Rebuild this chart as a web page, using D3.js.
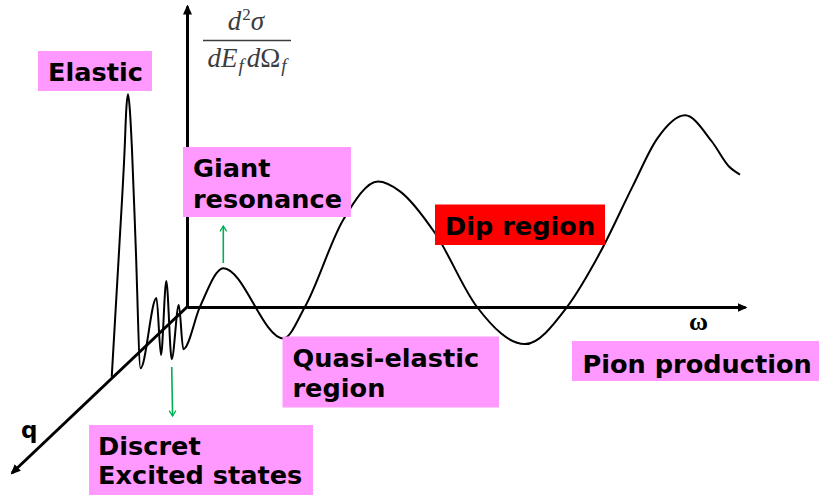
<!DOCTYPE html>
<html>
<head>
<meta charset="utf-8">
<script src="https://cdn.jsdelivr.net/npm/d3@7/dist/d3.min.js"></script>
<style>
  html, body { margin: 0; padding: 0; background: #fff; }
  svg { display: block; }
  .lbl { font-family: "DejaVu Sans", Verdana, sans-serif; font-weight: bold; font-size: 25.6px; fill: #000; }
  .math { font-family: "Liberation Serif", "Times New Roman", serif; font-style: italic; fill: #3c3c3c; }
</style>
</head>
<body>
<svg id="chart" width="819" height="496"></svg>
<script>
// Schematic inclusive cross section versus energy transfer (omega),
// with the discrete low-energy structure drawn along the q direction.

// Energy transfer (axis units, 0 = origin, 100 = end of omega axis)
const omega = [
  -13.49, -12.13, -11.18, -10.88, -10.57, -10.25, -9.86, -9.19, -8.33,
  -5.47, -4.66, -3.71, -2.74, -1.47, -0.66,
  2.33, 6.51, 17.26, 21.15, 28.01, 34.23, 38.17, 44.44, 51.97,
  60.57, 68.10, 74.01, 79.93, 84.18, 89.25, 94.09, 97.13, 99.10
];
// Cross section (axis units, 0 = omega axis, 100 = top of sigma axis)
const sigma = [
  -23.23, 20.10, 52.33, 65.67, 70.67, 65.67, 52.33, 20.10, -20.33,
  3.00, -16.00, 8.67, -17.33, 0.67, -14.00,
  0.10, 12.90, -10.43, 0.10, 29.00, 41.67, 38.43, 24.57, 0.00,
  -12.33, 0.00, 18.00, 40.33, 55.67, 63.67, 54.90, 46.67, 44.00
];

// Region names shown in the boxes (one entry per text line group)
const regionNames = [
  ["Elastic"],
  ["Giant", "resonance"],
  ["Dip region"],
  ["Quasi-elastic", "region"],
  ["Pion production"],
  ["Discret", "Excited states"]
];
const qLabel = "q";
const omegaLabel = "ω";

const svg = d3.select("#chart");

const x = d3.scaleLinear().domain([0, 100]).range([187, 745]);
const y = d3.scaleLinear().domain([0, 100]).range([307, 6]);
// q axis runs from the origin down-left
const qx = d3.scaleLinear().domain([0, 100]).range([187, 12]);
const qy = d3.scaleLinear().domain([0, 100]).range([307, 473]);

// Markers
const defs = svg.append("defs");
defs.append("marker")
  .attr("id", "axisHead")
  .attr("markerUnits", "userSpaceOnUse")
  .attr("viewBox", "0 -5 10 10")
  .attr("refX", 8).attr("refY", 0)
  .attr("markerWidth", 10).attr("markerHeight", 10)
  .attr("orient", "auto")
  .append("path").attr("d", "M0,-4.5L10,0L0,4.5Z").attr("fill", "#000");
defs.append("marker")
  .attr("id", "greenHead")
  .attr("markerUnits", "userSpaceOnUse")
  .attr("viewBox", "-1 -5 12 10")
  .attr("refX", 9.5).attr("refY", 0)
  .attr("markerWidth", 10).attr("markerHeight", 10)
  .attr("orient", "auto")
  .append("path").attr("d", "M3,-4L9.5,0L3,4")
  .attr("fill", "none").attr("stroke", "#00b050").attr("stroke-width", 1.6);

// Axes (no ticks, arrow ends)
const gx = svg.append("g").attr("transform", `translate(0,${y(0)})`)
  .call(d3.axisBottom(x).tickValues([]).tickSizeOuter(0));
const gy = svg.append("g").attr("transform", `translate(${x(0)},0)`)
  .call(d3.axisLeft(y).tickValues([]).tickSizeOuter(0));
[gx, gy].forEach(g => g.select(".domain")
  .style("stroke", "#000").style("stroke-width", "3px")
  .attr("marker-end", "url(#axisHead)"));

svg.append("line")
  .attr("x1", qx(0)).attr("y1", qy(0))
  .attr("x2", qx(100)).attr("y2", qy(100))
  .attr("stroke", "#000").attr("stroke-width", 3)
  .attr("marker-end", "url(#axisHead)");

// Cross-section curve
const pts = omega.map((w, i) => [w, sigma[i]]);
const line = d3.line()
  .x(d => x(d[0])).y(d => y(d[1]))
  .curve(d3.curveMonotoneX);
svg.append("path")
  .attr("d", line(pts))
  .attr("fill", "none")
  .attr("stroke", "#000")
  .attr("stroke-width", 2)
  .attr("stroke-linejoin", "round");

// Green pointer arrows
svg.append("line")
  .attr("x1", 223.3).attr("y1", 263).attr("x2", 223.3).attr("y2", 226)
  .attr("stroke", "#00b050").attr("stroke-width", 1.6)
  .attr("marker-end", "url(#greenHead)");
svg.append("line")
  .attr("x1", 171.7).attr("y1", 367).attr("x2", 172.6).attr("y2", 416)
  .attr("stroke", "#00b050").attr("stroke-width", 1.6)
  .attr("marker-end", "url(#greenHead)");

// Region boxes
const boxLayout = [
  { x: 38,  y: 51,  w: 114, h: 40, tx: 48,  base: [81],       fill: "#ff99ff" },
  { x: 183, y: 147, w: 168, h: 70, tx: 193, base: [177, 208], fill: "#ff99ff" },
  { x: 435, y: 204.5, w: 170, h: 40.5, tx: 445, base: [235],  fill: "#ff0000" },
  { x: 282.5, y: 336.5, w: 216.5, h: 71, tx: 292.5, base: [367, 397], fill: "#ff99ff" },
  { x: 572, y: 341, w: 247, h: 40, tx: 582.5, base: [373],    fill: "#ff99ff" },
  { x: 89,  y: 425, w: 224, h: 70, tx: 98,  base: [455, 484], fill: "#ff99ff" }
];
regionNames.forEach((lines, i) => {
  const b = boxLayout[i];
  const g = svg.append("g");
  g.append("rect").attr("x", b.x).attr("y", b.y)
    .attr("width", b.w).attr("height", b.h).attr("fill", b.fill);
  lines.forEach((t, j) => {
    g.append("text").attr("class", "lbl")
      .attr("x", b.tx).attr("y", b.base[j]).text(t);
  });
});

// Axis names
svg.append("text").attr("class", "lbl")
  .attr("x", 21).attr("y", 438).style("font-size", "23px").text(qLabel);
svg.append("text")
  .attr("x", 689).attr("y", 330)
  .style("font-family", "'Liberation Serif', serif")
  .style("font-weight", "bold").style("font-size", "26px")
  .text(omegaLabel);

// Ordinate label: d²σ / (dE_f dΩ_f)
const num = svg.append("text").attr("class", "math")
  .attr("x", 246).attr("y", 30).attr("text-anchor", "middle")
  .style("font-size", "27px");
num.append("tspan").text("d");
num.append("tspan").attr("dy", -10).attr("dx", 1).style("font-size", "17px").style("font-style", "normal").text("2");
num.append("tspan").attr("dy", 10).text("σ");

svg.append("line")
  .attr("x1", 203).attr("x2", 291).attr("y1", 40.5).attr("y2", 40.5)
  .attr("stroke", "#3c3c3c").attr("stroke-width", 1.3);

const den = svg.append("text").attr("class", "math")
  .attr("x", 247).attr("y", 67).attr("text-anchor", "middle")
  .style("font-size", "27px");
den.append("tspan").text("dE");
den.append("tspan").attr("dy", 5).attr("dx", 1).style("font-size", "19px").text("f");
den.append("tspan").attr("dy", -5).attr("dx", 3).text("d");
den.append("tspan").style("font-style", "normal").text("Ω");
den.append("tspan").attr("dy", 5).attr("dx", 1).style("font-size", "19px").text("f");
</script>
</body>
</html>
